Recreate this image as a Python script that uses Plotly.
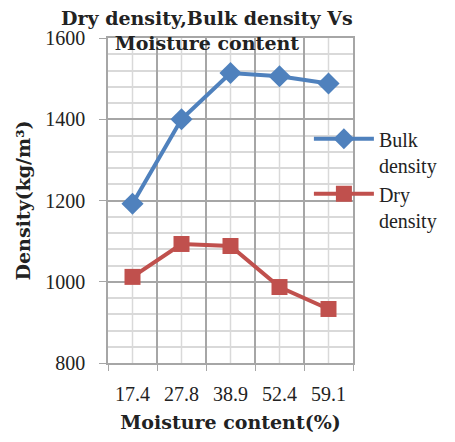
import plotly.graph_objects as go

# Moisture content categories (%)
moisture = ["17.4", "27.8", "38.9", "52.4", "59.1"]
# Densities in kg/m³
bulk_density = [1192, 1400, 1514, 1506, 1488]
dry_density = [1012, 1093, 1088, 987, 933]

y_ticks = [800, 1000, 1200, 1400, 1600]

BLUE = "#4F81BD"
RED = "#C0504D"
SERIF = "Liberation Serif, serif"
BOLD_SERIF = "DejaVu Serif, serif"

fig = go.Figure()
fig.add_trace(go.Scatter(
    x=moisture, y=bulk_density, name="Bulk<br>density", mode="lines+markers",
    line=dict(color=BLUE, width=4),
    marker=dict(symbol="diamond", size=17, color=BLUE),
))
fig.add_trace(go.Scatter(
    x=moisture, y=dry_density, name="Dry<br>density", mode="lines+markers",
    line=dict(color=RED, width=4),
    marker=dict(symbol="square", size=16, color=RED),
))

# light vertical grid lines through the category centres (by category index)
for i in range(len(moisture)):
    fig.add_shape(type="line", xref="x", yref="paper", x0=i, x1=i, y0=0, y1=1,
                  line=dict(color="#D9D9D9", width=1.5), layer="below")

# chart title, two lines, the second one sitting inside the plot area
fig.add_annotation(
    text="<b>Dry density,Bulk density Vs<br>Moisture content</b>",
    xref="paper", yref="paper", x=0.405, y=1.10, xanchor="center", yanchor="top",
    showarrow=False, align="center",
    font=dict(family=BOLD_SERIF, size=19, color="#222222"),
)

fig.update_layout(
    width=455, height=442,
    margin=dict(l=108, r=102, t=38, b=79),
    paper_bgcolor="white", plot_bgcolor="white",
    font=dict(family=SERIF, color="#222222"),
    xaxis=dict(
        type="category", tickson="boundaries", range=[-0.5, 4.5],
        automargin=False,
        showgrid=True, gridcolor="#A6A6A6", gridwidth=1.5,
        showline=True, linecolor="#A6A6A6", linewidth=1.5, mirror=True,
        ticks="outside", ticklen=6, tickcolor="#A6A6A6", tickangle=0,
        ticklabelstandoff=12,
        tickfont=dict(size=20, family=SERIF),
        title=dict(text="<b>Moisture content(%)</b>", standoff=12,
                   font=dict(size=19, family=BOLD_SERIF)),
    ),
    yaxis=dict(
        range=[800, 1600], tickvals=y_ticks,
        automargin=False,
        showgrid=True, gridcolor="#A6A6A6", gridwidth=1.5,
        showline=True, linecolor="#A6A6A6", linewidth=1.5, mirror=True,
        ticks="outside", ticklen=7, tickcolor="#A6A6A6",
        ticklabelstandoff=10,
        minor=dict(dtick=40, showgrid=True, gridcolor="#D9D9D9", gridwidth=1.5),
        tickfont=dict(size=20, family=SERIF),
        title=dict(text="<b>Density(kg/m³)</b>", standoff=10,
                   font=dict(size=19, family=BOLD_SERIF)),
    ),
    legend=dict(
        x=0.82, y=0.75, xanchor="left", yanchor="top",
        bgcolor="rgba(0,0,0,0)", valign="top",
        font=dict(size=20, family=SERIF, color="#222222"),
        itemwidth=60, tracegroupgap=28,
    ),
)

fig.write_html("out.html")
